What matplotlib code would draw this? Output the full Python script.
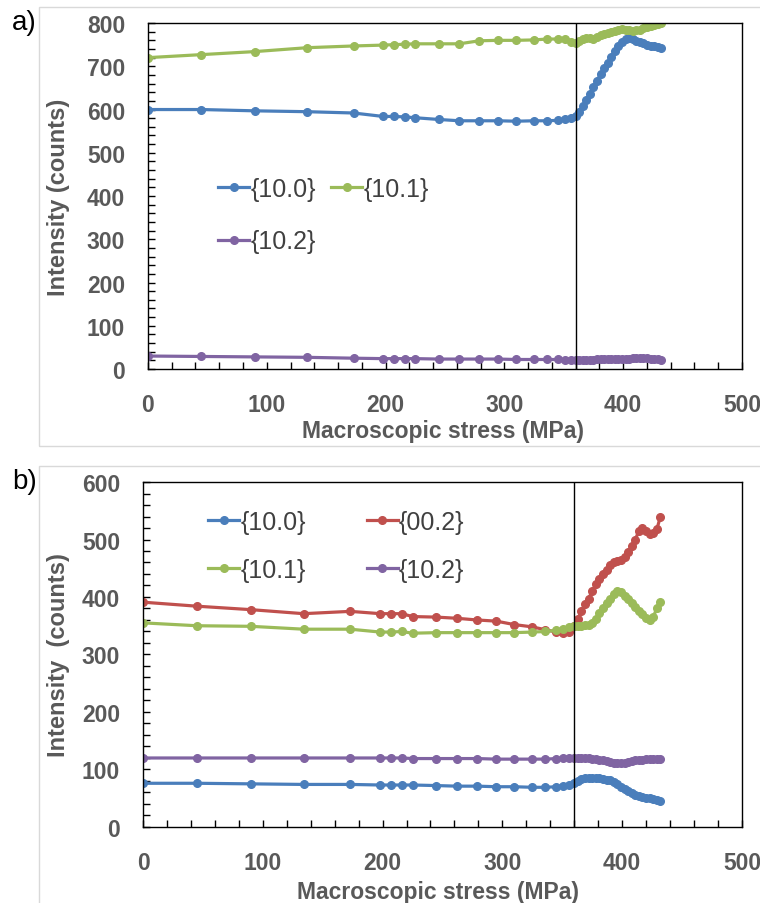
import matplotlib
matplotlib.use('Agg')
import matplotlib.pyplot as plt
from matplotlib.patches import Rectangle
from matplotlib.ticker import MultipleLocator

plt.rcParams['font.family'] = ['Liberation Sans', 'DejaVu Sans']

# stress values (MPa), shared by both panels
stress = [0, 45, 90, 134, 173, 198, 207, 216, 225, 245, 262, 279, 295, 310, 325, 336, 345, 351, 356, 360,
          363, 366, 369, 372, 375, 378, 381, 384, 387, 390, 393, 396, 399, 402, 405, 408, 411, 414, 417,
          420, 423, 426, 429, 432]

# panel a)
a_100 = [600, 600, 597, 595, 592, 584, 584, 583, 581, 577, 574, 574, 574, 573, 574, 574, 575, 577, 580, 585,
         595, 608, 622, 637, 652, 667, 682, 695, 708, 722, 736, 748, 757, 763, 765, 762, 759, 756, 753,
         750, 748, 746, 744, 742]
a_101 = [720, 727, 734, 743, 747, 749, 750, 751, 752, 752, 752, 759, 760, 760, 761, 763, 763, 762, 757, 755,
         758, 762, 765, 766, 764, 768, 773, 775, 777, 779, 781, 784, 786, 785, 783, 781, 783, 785, 788,
         792, 794, 795, 797, 799]
a_102 = [30, 29, 28, 27, 25, 24, 24, 24, 24, 23, 23, 23, 23, 22, 22, 22, 22, 21, 21, 20,
         20, 20, 21, 21, 21, 22, 22, 22, 22, 22, 22, 22, 22, 23, 24, 25, 25, 26, 25,
         25, 24, 23, 22, 21]

# panel b)
b_100 = [76, 76, 75, 74, 74, 73, 73, 73, 73, 72, 71, 71, 70, 70, 69, 69, 70, 72, 73, 76,
         80, 84, 86, 86, 86, 86, 85, 83, 82, 81, 78, 74, 70, 66, 62, 59, 56, 54, 52,
         51, 50, 49, 47, 45]
b_002 = [391, 384, 378, 371, 375, 371, 371, 371, 366, 365, 363, 360, 358, 352, 348, 343, 339, 337, 339, 350,
         362, 375, 387, 397, 410, 422, 432, 440, 447, 455, 460, 463, 465, 469, 478, 488, 500, 515, 520,
         514, 510, 511, 518, 540]
b_101 = [355, 350, 349, 344, 344, 339, 339, 340, 337, 338, 338, 338, 338, 338, 339, 340, 342, 345, 347, 349,
         350, 350, 351, 352, 355, 362, 372, 380, 389, 397, 405, 410, 408, 401, 396, 390, 383, 376, 370,
         364, 360, 366, 380, 392]
b_102 = [120, 120, 120, 120, 120, 120, 120, 120, 119, 119, 119, 119, 118, 118, 118, 118, 119, 120, 120, 120,
         120, 120, 120, 120, 119, 118, 117, 116, 115, 113, 112, 111, 111, 112, 113, 115, 116, 117, 117,
         118, 118, 119, 119, 119]

yield_stress = 360

blue = '#4a7ebb'
green = '#9bbb59'
red = '#c0504d'
purple = '#8064a2'
grey = '#595959'

fig = plt.figure(figsize=(7.6, 9.04), dpi=100)

# light panel frames
fig.patches.append(Rectangle((0.051, 0.506), 1.0, 0.485, transform=fig.transFigure,
                             fill=False, edgecolor='#d9d9d9', linewidth=1))
fig.patches.append(Rectangle((0.051, -0.01), 1.0, 0.493, transform=fig.transFigure,
                             fill=False, edgecolor='#d9d9d9', linewidth=1))

axa = fig.add_axes([0.1947, 0.5907, 0.7816, 0.3827])
axb = fig.add_axes([0.1882, 0.0841, 0.7880, 0.3816])


def style(ax, ymax, ylabel, ylab_x, xlab_x, xlab_y):
    ax.set_xlim(0, 500)
    ax.set_ylim(0, ymax)
    ax.xaxis.set_major_locator(MultipleLocator(100))
    ax.xaxis.set_minor_locator(MultipleLocator(20))
    ax.yaxis.set_major_locator(MultipleLocator(100))
    ax.yaxis.set_minor_locator(MultipleLocator(20))
    ax.tick_params(which='both', direction='in', top=False, right=False, length=5, width=1)
    ax.tick_params(which='major', labelsize=16.5, labelcolor=grey)
    ax.tick_params(axis='y', which='major', pad=16.5)
    ax.tick_params(axis='x', which='major', pad=17.5)
    for lab in ax.get_xticklabels() + ax.get_yticklabels():
        lab.set_fontweight('bold')
    for sp in ax.spines.values():
        sp.set_linewidth(1)
    ax.axvline(yield_stress, color='black', linewidth=1)
    ax.set_xlabel('Macroscopic stress (MPa)', fontsize=16.5, fontweight='bold', color=grey)
    ax.set_ylabel(ylabel, fontsize=17, fontweight='bold', color=grey)
    ax.xaxis.set_label_coords(xlab_x, xlab_y)
    ax.yaxis.set_label_coords(ylab_x, 0.5)


kw = dict(marker='o', markersize=5.5, linewidth=2.3)

l100, = axa.plot(stress, a_100, color=blue, label='{10.0}', **kw)
l101, = axa.plot(stress, a_101, color=green, label='{10.1}', **kw)
l102, = axa.plot(stress, a_102, color=purple, label='{10.2}', **kw)
style(axa, 800, 'Intensity (counts)', -0.131, 0.497, -0.145)
axa.legend([l100, l102, l101], ['{10.0}', '{10.2}', '{10.1}'], ncol=2, frameon=False,
           loc='upper left', bbox_to_anchor=(0.118, 0.555), borderpad=0, borderaxespad=0,
           fontsize=18, handlelength=1.25, handletextpad=0.05, columnspacing=0.6,
           labelspacing=1.14, labelcolor='#404040')

m100, = axb.plot(stress, b_100, color=blue, label='{10.0}', **kw)
m002, = axb.plot(stress, b_002, color=red, label='{00.2}', **kw)
m101, = axb.plot(stress, b_101, color=green, label='{10.1}', **kw)
m102, = axb.plot(stress, b_102, color=purple, label='{10.2}', **kw)
style(axb, 600, 'Intensity  (counts)', -0.122, 0.493, -0.153)
axb.legend([m100, m101, m002, m102], ['{10.0}', '{10.1}', '{00.2}', '{10.2}'], ncol=2, frameon=False,
           loc='upper left', bbox_to_anchor=(0.1085, 0.92), borderpad=0, borderaxespad=0,
           fontsize=18, handlelength=1.25, handletextpad=0.05, columnspacing=2.42,
           labelspacing=0.98, labelcolor='#404040')

fig.text(0.016, 0.975, 'a)', fontsize=20, va='center', ha='left')
fig.text(0.016, 0.467, 'b)', fontsize=20, va='center', ha='left')

fig.savefig('out.png', dpi=100)
